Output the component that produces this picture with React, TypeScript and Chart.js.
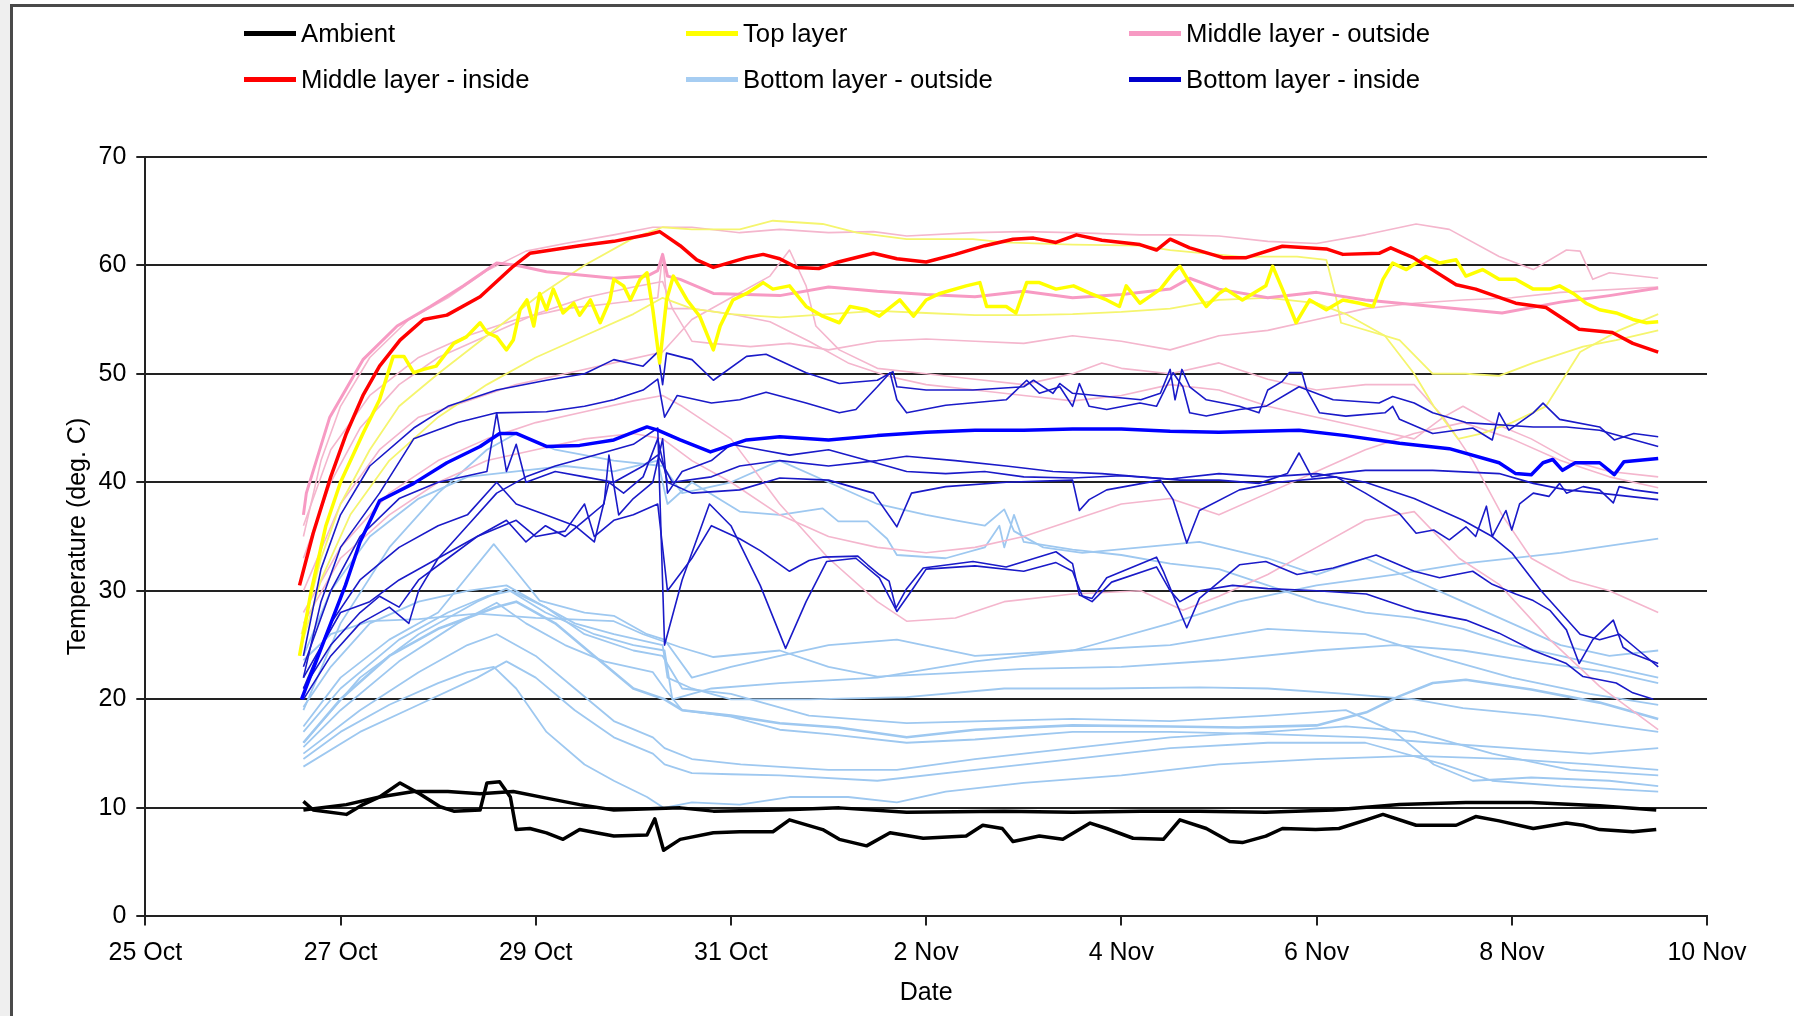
import React, { useEffect, useRef } from "react";
import { Chart, registerables } from "chart.js";

Chart.register(...registerables);

// x = days after 25 Oct 00:00, y = temperature (deg. C)
type Pt = [number, number];

const X_TICK_LABELS = ["25 Oct", "27 Oct", "29 Oct", "31 Oct", "2 Nov", "4 Nov", "6 Nov", "8 Nov", "10 Nov"];
const Y_MIN = 0;
const Y_MAX = 70;
const Y_STEP = 10;

const LEGEND_ROW1 = ["Ambient", "Top layer", "Middle layer - outside"];
const LEGEND_ROW2 = ["Middle layer - inside", "Bottom layer - outside", "Bottom layer - inside"];

// ---------- Ambient ----------
const AMBIENT_1: Pt[] = [[1.62,9.8],[2.06,10.3],[2.4,11.0],[2.75,11.5],[3.1,11.5],[3.43,11.3],[3.77,11.5],[4.11,10.9],[4.45,10.3],[4.8,9.8],[5.48,10.0],[5.82,9.7],[6.5,9.8],[7.11,10.0],[7.8,9.6],[8.8,9.7],[9.5,9.6],[10.2,9.7],[10.8,9.7],[11.48,9.6],[12.17,9.8],[12.85,10.3],[13.53,10.5],[14.2,10.5],[14.9,10.2],[15.48,9.8]];
const AMBIENT_2: Pt[] = [[1.62,10.6],[1.72,9.8],[2.06,9.4],[2.23,10.3],[2.4,11.0],[2.61,12.3],[2.81,11.3],[3.02,10.1],[3.16,9.7],[3.43,9.8],[3.5,12.3],[3.63,12.4],[3.74,11.0],[3.8,8.0],[3.94,8.1],[4.11,7.7],[4.28,7.1],[4.45,8.0],[4.62,7.7],[4.8,7.4],[5.14,7.5],[5.22,9.0],[5.31,6.1],[5.48,7.1],[5.82,7.7],[6.09,7.8],[6.43,7.8],[6.6,8.9],[6.94,8.0],[7.11,7.1],[7.39,6.5],[7.63,7.7],[7.97,7.2],[8.41,7.4],[8.58,8.4],[8.78,8.1],[8.89,6.9],[9.16,7.4],[9.4,7.1],[9.68,8.6],[9.85,8.1],[10.12,7.2],[10.43,7.1],[10.6,8.9],[10.87,8.1],[11.11,6.9],[11.24,6.8],[11.48,7.4],[11.65,8.1],[11.99,8.0],[12.23,8.1],[12.51,8.9],[12.68,9.4],[13.02,8.4],[13.43,8.4],[13.63,9.2],[13.87,8.8],[14.22,8.1],[14.56,8.6],[14.73,8.4],[14.9,8.0],[15.24,7.8],[15.48,8.0]];

// ---------- Middle layer - inside ----------
const MIDDLE_INSIDE: Pt[] = [[1.58,30.5],[1.72,35.3],[1.9,40.5],[2.06,44.5],[2.23,48],[2.4,50.7],[2.61,53.1],[2.85,55],[3.09,55.4],[3.43,57.1],[3.6,58.5],[3.77,59.9],[3.94,61.1],[4.45,61.8],[4.8,62.2],[5.14,62.8],[5.27,63.1],[5.48,61.8],[5.65,60.5],[5.82,59.8],[6.16,60.7],[6.33,61],[6.5,60.6],[6.67,59.8],[6.9,59.7],[7.1,60.3],[7.46,61.1],[7.7,60.6],[8.0,60.3],[8.3,61],[8.6,61.8],[8.89,62.4],[9.1,62.5],[9.33,62.1],[9.54,62.8],[9.8,62.3],[10.19,61.9],[10.36,61.4],[10.5,62.4],[10.7,61.6],[11.04,60.7],[11.28,60.7],[11.65,61.75],[12.1,61.5],[12.27,61.0],[12.64,61.1],[12.76,61.6],[12.99,60.7],[13.43,58.2],[13.63,57.8],[14.04,56.5],[14.35,56.1],[14.69,54.1],[15.03,53.8],[15.24,52.8],[15.5,52.0]];

// ---------- Top layer ----------
const TOP_MAIN: Pt[] = [[1.58,24],[1.7,30],[1.85,36],[2.0,40],[2.23,44.5],[2.4,47.6],[2.54,51.6],[2.65,51.6],[2.75,50.1],[2.85,50.4],[2.98,50.7],[3.16,52.8],[3.29,53.4],[3.43,54.7],[3.5,53.8],[3.6,53.4],[3.7,52.2],[3.77,53.1],[3.84,55.9],[3.91,56.8],[3.98,54.4],[4.04,57.4],[4.11,55.9],[4.18,57.8],[4.28,55.6],[4.39,56.5],[4.45,55.4],[4.56,56.8],[4.66,54.7],[4.76,56.8],[4.8,58.7],[4.9,58.1],[4.97,56.8],[5.07,58.7],[5.14,59.3],[5.2,55.9],[5.27,51],[5.34,56.8],[5.41,59],[5.55,56.8],[5.68,55.3],[5.82,52.2],[5.89,54.4],[6.02,56.8],[6.16,57.4],[6.33,58.4],[6.43,57.8],[6.6,58.1],[6.77,56.2],[6.94,55.3],[7.11,54.7],[7.22,56.2],[7.39,55.9],[7.52,55.3],[7.73,56.8],[7.87,55.3],[8.0,56.8],[8.14,57.4],[8.41,58.1],[8.55,58.4],[8.62,56.2],[8.82,56.2],[8.92,55.6],[9.03,58.4],[9.16,58.4],[9.33,57.8],[9.51,58.1],[9.68,57.4],[9.85,56.8],[9.98,56.2],[10.05,58.1],[10.19,56.5],[10.4,57.8],[10.53,59.3],[10.6,59.9],[10.7,58.4],[10.87,56.2],[11.0,57.4],[11.07,57.8],[11.24,56.8],[11.48,58.1],[11.55,59.9],[11.65,57.8],[11.79,54.7],[11.93,56.8],[12.1,55.9],[12.27,56.8],[12.44,56.5],[12.58,56.2],[12.68,58.7],[12.78,60.2],[12.92,59.6],[13.12,60.8],[13.26,60.2],[13.43,60.5],[13.53,59],[13.7,59.6],[13.87,58.7],[14.04,58.7],[14.22,57.8],[14.39,57.8],[14.49,58.1],[14.63,57.4],[14.76,56.5],[14.9,55.9],[15.07,55.6],[15.24,55],[15.38,54.7],[15.5,54.8]];
const TOP_UPPER: Pt[] = [[1.6,26],[1.8,33],[2.0,38],[2.3,43],[2.6,47],[3.0,50],[3.5,53.5],[4.0,57],[4.5,60],[5.0,62.5],[5.3,63.5],[5.6,63.3],[6.09,63.3],[6.43,64.1],[6.94,63.8],[7.29,63],[7.8,62.4],[8.48,62.4],[8.8,62.1],[9.5,61.9],[10.19,61.8],[10.5,61.4],[11.21,60.8],[11.8,60.8],[12.1,60.5],[12.2,57],[12.25,54.7],[12.85,53.1],[13.19,50],[13.53,50],[13.87,49.8],[14.22,51],[14.73,52.5],[15.07,53.1],[15.5,54]];
const TOP_LOWER: Pt[] = [[1.6,25],[1.8,31],[2.1,37],[2.5,42],[3.0,46],[3.5,49],[4.0,51.5],[4.5,53.5],[5.0,55.5],[5.3,57],[5.6,56],[6.0,55.5],[6.5,55.2],[7.0,55.5],[7.5,55.8],[8.0,55.6],[8.5,55.4],[9.0,55.4],[9.5,55.5],[10.0,55.7],[10.5,56.0],[11.0,56.8],[11.5,57],[12.0,56.5],[12.3,55.5],[12.7,53.5],[13.0,50],[13.2,47],[13.45,44],[13.7,44.5],[14.0,45.5],[14.35,47],[14.7,52],[15.1,54],[15.5,55.5]];

// ---------- Middle layer - outside ----------
const MID_OUT_MAIN: Pt[] = [[1.62,37],[1.65,39],[1.89,46],[2.23,51.3],[2.58,54.4],[2.92,56.2],[3.26,58.1],[3.6,60.2],[3.8,60],[4.11,59.4],[4.8,58.8],[5.14,59],[5.25,59.5],[5.3,61],[5.35,59],[5.48,58.7],[5.82,57.4],[6.5,57.2],[7.0,58.0],[7.5,57.6],[8.0,57.3],[8.5,57.1],[9.0,57.6],[9.5,57],[10.0,57.3],[10.5,57.8],[10.7,58.8],[11.0,57.8],[11.5,57],[12.0,57.5],[12.5,56.8],[13.2,56.2],[13.9,55.6],[14.5,56.6],[15.0,57.2],[15.5,57.9]];
const MID_OUT_A: Pt[] = [[1.62,35],[1.8,42],[2.0,47],[2.3,51.5],[2.7,55],[3.1,57],[3.5,59.5],[3.9,61.3],[4.3,62],[4.8,62.8],[5.2,63.5],[5.6,63.5],[6.09,63],[6.5,63.3],[7.0,63],[7.46,63.1],[7.8,62.7],[8.48,63],[9.0,63.1],[9.5,63],[10.19,62.8],[10.6,62.8],[11.0,62.7],[11.5,62.2],[12.0,62],[12.5,62.8],[13.02,63.8],[13.36,63.3],[13.87,60.8],[14.22,59.6],[14.56,61.4],[14.7,61.3],[14.83,58.7],[15.0,59.3],[15.5,58.8]];
const MID_OUT_B: Pt[] = [[1.62,33],[1.9,40],[2.2,45],[2.6,49],[3.0,51.5],[3.5,53.5],[4.0,55.5],[4.5,57],[5.0,58],[5.3,58.5],[5.4,56],[5.6,53],[5.8,52.8],[6.2,52.5],[6.6,52.8],[7.0,52.2],[7.5,53],[8.0,53.2],[8.5,53],[9.0,52.8],[9.5,53.5],[10.0,53],[10.5,52.2],[11.0,53.5],[11.5,54],[12,55],[12.5,56],[13.0,56.5],[13.5,56.8],[14,57],[14.5,57.5],[15.5,58]];
const MID_OUT_C: Pt[] = [[1.62,30],[2.0,38],[2.4,43],[2.8,46],[3.3,47.5],[3.8,49],[4.3,50],[4.8,51],[5.3,52],[5.6,55],[6.0,57],[6.4,59],[6.6,61.4],[6.77,58.1],[6.87,54.4],[7.11,52.2],[7.5,50.5],[8.0,50],[8.5,49.5],[9.0,49],[9.5,50],[9.8,51],[10.0,50.5],[10.5,50],[11.0,51],[11.5,49.5],[12.0,48.5],[12.5,49],[13.0,49],[13.3,46],[13.6,42],[13.9,37],[14.2,33],[14.6,31],[15.0,30],[15.5,28]];
const MID_OUT_D: Pt[] = [[1.62,28],[2.0,34],[2.5,39],[3.0,42],[3.5,44],[4.0,45.5],[4.5,46.5],[5.0,47.5],[5.3,48],[5.5,47],[6.0,44],[6.5,38],[7.0,33],[7.5,29],[7.8,27.2],[8.3,27.5],[8.8,29],[9.5,29.7],[10.2,30],[10.63,28.2],[11.0,29.5],[11.5,31.5],[12.0,34],[12.5,36.5],[13.0,37.3],[13.46,33],[13.87,30.6],[14.39,25.5],[14.9,21.2],[15.5,17.2]];
const MID_OUT_E: Pt[] = [[1.62,27],[2.0,33],[2.5,37],[3.0,40],[3.5,42],[4.0,43],[4.5,44],[5.0,44.5],[5.3,44],[5.6,42],[6.0,40],[6.5,37],[7.0,35],[7.5,34],[8.0,33.5],[8.5,34],[9.0,35],[9.5,36.5],[10.0,38],[10.5,38.5],[11.0,37],[11.5,39],[12.0,41],[12.5,43],[13.0,44.5],[13.5,45.5],[14.0,44],[14.5,42],[15.0,40.5],[15.5,39.5]];
const MID_OUT_F: Pt[] = [[1.62,36],[1.9,43],[2.3,48],[2.8,51.5],[3.3,53.5],[3.8,55],[4.3,56],[4.8,56.5],[5.25,57],[5.3,61],[5.35,56],[5.6,56],[6.0,55.5],[6.4,54.8],[6.8,53],[7.2,51],[7.6,49.8],[8.0,49],[8.5,48.5],[9.0,48],[9.5,47.5],[10.0,48],[10.5,49],[11.0,48.5],[11.5,47],[12.0,46],[12.5,45],[13.0,44],[13.3,46],[13.5,47],[13.8,45.5],[14.2,44],[14.6,42],[15.0,41],[15.5,40.5]];

// ---------- Bottom layer - inside ----------
const BOT_IN_MAIN: Pt[] = [[1.6,20],[1.75,23.5],[1.9,27],[2.05,30.5],[2.2,34.5],[2.4,38.3],[2.75,39.9],[3.09,41.8],[3.43,43.3],[3.63,44.5],[3.8,44.5],[4.11,43.3],[4.45,43.4],[4.8,43.9],[5.14,45.1],[5.25,44.8],[5.48,43.9],[5.79,42.8],[6.16,43.9],[6.5,44.2],[7.0,43.9],[7.5,44.3],[8,44.6],[8.5,44.8],[9,44.8],[9.5,44.9],[10,44.9],[10.5,44.7],[11.0,44.6],[11.82,44.8],[12.3,44.3],[12.85,43.6],[13.36,43.1],[13.87,41.8],[14.04,40.8],[14.2,40.7],[14.32,41.8],[14.42,42.1],[14.52,41.1],[14.65,41.8],[14.9,41.8],[15.05,40.7],[15.15,41.9],[15.5,42.2]];
const BOT_IN_A: Pt[] = [[1.62,24],[1.8,32],[2.0,37],[2.3,41.5],[2.75,45],[3.1,47],[3.6,48.5],[4.11,49.4],[4.5,50],[4.8,51.3],[5.1,50.7],[5.25,52],[5.3,49],[5.34,51.9],[5.6,51.3],[5.82,49.4],[6.16,51.6],[6.36,51.8],[6.77,50.1],[7.11,49.1],[7.5,49.4],[7.66,50.2],[7.7,48.8],[8.0,48.5],[8.48,48.5],[9.0,48.8],[9.1,49.4],[9.3,48.2],[9.37,49.1],[9.5,48.2],[9.85,47.9],[10.2,47.6],[10.4,48.2],[10.5,50.4],[10.55,47.6],[10.62,50.4],[10.7,48.8],[10.87,47.6],[11.21,47],[11.41,46.4],[11.5,48.5],[11.65,49.3],[11.72,50.1],[11.85,50.1],[11.9,48.5],[12.03,46.4],[12.3,46.1],[12.7,46.4],[12.78,47],[12.85,45.8],[13.19,44.5],[13.6,45],[13.8,43.9],[13.87,46.4],[13.97,44.8],[14.22,46.4],[14.32,47.3],[14.49,45.8],[14.9,45.1],[15.05,43.9],[15.25,44.5],[15.5,44.2]];
const BOT_IN_B: Pt[] = [[1.62,22],[1.8,29],[2.0,34],[2.4,39],[2.75,44],[3.2,45.5],[3.6,46.4],[4.11,46.5],[4.5,47],[4.8,47.6],[5.1,48.5],[5.25,49.5],[5.32,46],[5.45,48],[5.8,47.3],[6.09,47.6],[6.36,48.3],[6.77,47.3],[7.11,46.4],[7.28,46.7],[7.5,48.8],[7.63,50.1],[7.7,47.6],[7.8,46.4],[8.2,47.1],[8.82,47.6],[9.03,49.4],[9.16,48.2],[9.37,48.8],[9.5,47],[9.57,49.1],[9.67,47],[9.85,46.7],[10.19,47.3],[10.36,47],[10.53,50.1],[10.63,48.8],[10.7,46.4],[10.87,46.1],[11.21,46.7],[11.48,47],[11.82,48.8],[12.17,47.6],[12.64,47.3],[12.78,47.9],[13.0,47.3],[13.19,46.4],[13.53,45.5],[14.22,45.1],[14.56,45.1],[14.9,44.8],[15.5,43.3]];
const BOT_IN_C: Pt[] = [[1.62,23],[1.9,30],[2.2,35],[2.6,38.5],[3.0,40],[3.5,41],[3.6,46.4],[3.7,41],[3.8,43.5],[3.9,40],[4.2,41],[4.5,40.5],[4.8,40],[5.1,41.5],[5.25,42.5],[5.4,40],[5.8,40.5],[6.09,41.5],[6.5,42],[7.0,41.5],[7.5,42],[7.8,42.4],[8.3,42],[8.82,41.5],[9.3,41],[9.8,40.8],[10.2,40.5],[10.6,40.2],[11.0,40.2],[11.41,39.9],[11.7,40.8],[11.82,42.7],[11.95,40.5],[12.17,40.8],[12.5,41.1],[13.19,41.1],[13.87,40.8],[14.22,39.9],[14.56,39.3],[14.9,39],[15.5,38.4]];
const BOT_IN_D: Pt[] = [[1.62,21],[1.9,27],[2.2,31],[2.6,34],[3.0,36],[3.3,37],[3.6,40],[3.8,38],[4.1,37],[4.4,36],[4.6,34.5],[4.75,40],[4.9,39],[5.1,40.5],[5.25,44],[5.35,40],[5.6,39],[6.09,39.3],[6.5,40.4],[7.0,40.2],[7.46,39],[7.7,35.9],[7.85,39],[8.2,39.6],[8.82,40],[9.5,40.2],[9.57,37.4],[9.67,38.4],[9.85,39.3],[10.4,40.2],[10.53,38.4],[10.67,34.4],[10.8,37.4],[11.21,39.3],[11.6,40],[12.2,40.5],[12.5,39],[12.85,37.1],[13.02,35.3],[13.2,35.6],[13.36,34.7],[13.53,35.9],[13.63,35],[13.74,37.8],[13.8,35],[13.94,37.4],[14.0,35.6],[14.08,38],[14.22,39],[14.38,38.7],[14.49,39.9],[14.56,39],[14.73,39.6],[14.9,39.3],[15.04,38.1],[15.1,39.6],[15.25,39.3],[15.5,39]];
const BOT_IN_E: Pt[] = [[1.62,22],[2.0,28],[2.3,29],[2.6,31],[3.0,33],[3.4,35],[3.8,36.5],[4.0,35],[4.3,35.5],[4.5,38],[4.6,35],[4.8,36.5],[5.0,37],[5.25,38],[5.35,30],[5.6,33],[5.8,36],[6.09,34.8],[6.3,33.7],[6.6,31.8],[6.8,32.8],[6.94,33.1],[7.3,33.2],[7.4,32.4],[7.52,31.5],[7.62,30.9],[7.69,28.4],[7.8,30.2],[7.97,32.1],[8.48,32.7],[8.82,32.2],[9.33,33.6],[9.5,32.5],[9.57,29.6],[9.7,29.3],[9.85,31.2],[10.36,33.1],[10.43,31.8],[10.53,29.6],[10.67,26.6],[10.8,29.3],[11.21,32.4],[11.48,32.7],[11.8,31.5],[12.17,32.1],[12.61,33.3],[13.0,31.8],[13.26,31.2],[13.6,31.8],[13.8,30.6],[14.04,29.7],[14.22,29.1],[14.39,28.2],[14.56,26.4],[14.69,23.3],[14.83,25.5],[15.04,27.3],[15.14,24.8],[15.24,24.2],[15.5,23.3]];
const BOT_IN_F: Pt[] = [[1.62,20],[1.9,24],[2.2,27],[2.5,28.5],[2.7,27],[2.8,30],[3.0,33],[3.3,36],[3.6,39],[3.9,40.5],[4.2,41.5],[4.6,42.5],[5.0,43.5],[5.25,45],[5.32,25],[5.5,31],[5.78,38],[6.0,36],[6.3,30.5],[6.56,24.7],[6.77,29],[6.98,32.7],[7.28,33],[7.52,31.2],[7.7,28.1],[7.85,30],[8.0,32],[8.5,32.3],[9.0,31.8],[9.33,32.6],[9.5,31.8],[9.6,29.5],[9.7,29.0],[9.9,30.8],[10.36,32.2],[10.5,30],[10.6,29],[10.8,30],[11.14,30.5],[11.5,30.2],[12.0,30],[12.51,29.7],[13.0,28.2],[13.53,27.3],[13.87,26.1],[14.22,24.5],[14.56,23.3],[14.73,22.1],[15.07,21.5],[15.24,20.6],[15.45,20]];
const BOT_IN_G: Pt[] = [[1.62,21],[1.9,25],[2.2,28],[2.4,29.5],[2.6,28.5],[2.8,31],[3.1,33],[3.4,35],[3.7,36.5],[3.9,34.5],[4.1,36],[4.3,35],[4.5,36.5],[4.7,38],[4.75,42.5],[4.85,37],[5.0,38.5],[5.2,40],[5.3,44],[5.35,39],[5.5,41],[5.8,42],[6.0,43.5],[6.3,43],[6.6,42.5],[7.0,43],[7.4,42],[7.8,41],[8.2,40.8],[8.6,41],[9.0,40.5],[9.5,40.4],[10.0,40.6],[10.5,40.3],[11.0,40.8],[11.5,40.5],[12.0,40.8],[12.5,40],[13.0,38.5],[13.5,36.5],[13.8,35],[14.0,33.5],[14.3,30],[14.5,28],[14.7,26],[14.9,25.5],[15.1,26],[15.3,24.5],[15.5,23]];

// ---------- Bottom layer - outside ----------
const BOT_OUT_A: Pt[] = [[1.62,19],[2.0,27],[2.5,34],[3.0,39],[3.5,43],[3.8,44.5],[4.2,43],[4.8,42],[5.3,41.5],[5.5,39],[6.0,40],[6.5,42],[7.0,40],[7.5,38],[8.0,37],[8.3,36.5],[8.6,36],[8.8,37.5],[8.9,35.5],[9.2,34],[9.6,33.5],[10.2,34],[10.8,34.5],[11.5,33],[12.0,31.5],[12.5,33],[13.0,31],[13.5,29],[14.0,27],[14.5,25],[15.0,24],[15.5,24.5]];
const BOT_OUT_B: Pt[] = [[1.62,17.5],[2.0,22],[2.5,25.5],[3.0,28],[3.57,34.3],[3.77,32.1],[4.04,29.1],[4.5,28],[4.8,27.7],[5.14,26],[5.32,25.5],[5.6,22],[6.0,23],[6.5,24],[7.0,25],[7.7,25.5],[8.5,24],[9.5,24.5],[10.5,27],[11.2,29],[12,30.5],[12.8,31.5],[13.5,32.5],[14.5,33.5],[15.5,34.8]];
const BOT_OUT_C: Pt[] = [[1.62,16],[2.2,22],[2.8,26],[3.4,29],[3.7,30.2],[4.1,28],[4.6,26],[5.0,25],[5.32,24.5],[5.4,20],[5.8,21],[6.5,21.5],[7.5,22],[8.5,23.5],[9.5,24.5],[10.5,25],[11.5,26.5],[12.5,26],[13.2,24],[14.0,22],[14.8,20.5],[15.5,19.5]];
const BOT_OUT_D: Pt[] = [[1.62,16],[2.0,20],[2.5,24],[3.0,26.5],[3.6,28.5],[3.8,29],[4.2,27],[4.6,24],[5.0,21],[5.32,20],[5.5,19],[6.0,18.5],[6.5,17.8],[7.1,17.4],[7.8,16.5],[8.5,17.2],[9.5,17.6],[10.5,17.5],[11.2,17.4],[12.0,17.6],[12.51,18.8],[12.85,20.3],[13.19,21.5],[13.53,21.8],[14.2,20.9],[14.9,19.7],[15.5,18.2]];
const BOT_OUT_E: Pt[] = [[1.62,23.6],[1.9,26],[2.3,27.2],[2.8,27.4],[3.4,27.9],[4.0,27.5],[4.8,27.2],[5.1,26],[5.48,24.8],[5.82,23.9],[6.5,24.5],[7.0,23],[7.5,22.1],[8.2,22.4],[9.0,22.8],[10.0,23],[11.0,23.6],[12.0,24.5],[12.8,25],[13.5,24.5],[14.2,23.5],[15.0,22.5],[15.5,21.5]];
const BOT_OUT_F: Pt[] = [[1.62,14.5],[2.0,17],[2.5,19.5],[3.0,21.5],[3.3,22.5],[3.57,23],[3.8,21],[4.11,17],[4.5,14],[4.8,12.5],[5.14,11],[5.31,10],[5.6,10.5],[6.09,10.3],[6.6,11],[7.2,11],[7.7,10.5],[8.2,11.5],[9.0,12.3],[10.0,13],[11.0,14],[12.0,14.5],[13.0,14.8],[14.0,14.5],[14.8,14],[15.5,13.5]];
const BOT_OUT_G: Pt[] = [[1.62,13.8],[2.2,17],[2.8,19.5],[3.4,22],[3.7,23.5],[4.0,22],[4.4,19],[4.8,16.5],[5.2,15],[5.32,14],[5.6,13.2],[6.0,13.1],[6.5,13],[7.5,12.5],[8.5,13.5],[9.5,14.5],[10.5,15.5],[11.5,16],[12.5,16],[13.3,14],[13.8,12.5],[14.5,12],[15.5,11.5]];
const BOT_OUT_H: Pt[] = [[1.62,15.6],[2.0,19],[2.6,23.5],[3.2,27],[3.6,28.9],[3.9,27],[4.3,25],[4.7,23.5],[5.2,22.5],[5.32,21],[5.5,19],[6.0,18.4],[6.5,17.2],[7.0,16.8],[7.8,16],[8.5,16.3],[9.5,17],[10.5,17],[11.5,16.8],[12.5,16.5],[13.2,16],[14.0,15.5],[14.8,15],[15.5,15.5]];
const BOT_OUT_I: Pt[] = [[1.62,19.3],[1.9,23],[2.3,27],[2.8,29],[3.3,30],[3.7,30.5],[4.0,29],[4.4,27],[4.8,26],[5.3,25],[5.35,22],[5.6,21],[6.0,20],[6.8,20],[7.8,20.2],[8.8,21],[9.8,21],[10.8,21.1],[11.5,21],[12.3,20.5],[13.0,20],[13.5,19.2],[14.3,18.5],[15.5,17]];
const BOT_OUT_J: Pt[] = [[1.62,17],[2.0,21],[2.6,25.5],[3.1,28],[3.5,29.5],[3.75,30],[4.1,28.5],[4.5,26],[5.0,24.5],[5.3,24],[5.5,21],[6.0,20.5],[6.8,18.5],[7.8,17.8],[8.6,18],[9.5,18.2],[10.5,18],[11.5,18.5],[12.3,19],[12.8,17],[13.2,14],[13.6,12.5],[14.2,12.8],[15.0,12.5],[15.5,12]];
const BOT_OUT_K: Pt[] = [[1.62,24],[1.9,30],[2.3,35],[2.8,38.5],[3.3,40.5],[3.8,41],[4.3,41.5],[4.8,41],[5.25,42],[5.35,38],[5.6,40],[6.09,37.3],[6.5,37],[6.94,37.6],[7.1,36.4],[7.4,36.4],[7.6,34.8],[7.7,33.3],[8.2,33],[8.6,34],[8.75,36],[8.8,34],[8.9,37],[9.0,34.5],[9.5,33.8],[10.0,33.3],[10.5,32.5],[11.0,32],[11.5,30.5],[12.0,29],[12.5,28],[13.0,27.5],[13.5,26.5],[14.0,25],[14.5,24],[15.0,23],[15.5,22]];
const BOT_OUT_L: Pt[] = [[1.62,15],[2.2,19],[2.8,22.5],[3.3,25],[3.6,26],[4.0,24],[4.4,21],[4.8,18],[5.2,16.5],[5.32,15.5],[5.6,14.5],[6.1,14],[7.0,13.5],[7.7,13.5],[8.5,14.5],[9.5,15.5],[10.5,16.5],[11.5,17],[12.3,17.5],[13.0,17],[13.8,15],[14.6,13.5],[15.5,13]];

// ---------- colours ----------
const C_AMBIENT = "#000000";
const C_TOP = "#ffff00";
const C_TOP_THIN = "#f5f56e";
const C_MID_OUT = "#f79ac3";
const C_MID_OUT_THIN = "#f4b6cd";
const C_MID_IN = "#ff0000";
const C_BOT_OUT = "#9ec8f0";
const C_BOT_IN = "#0000ff";
const C_BOT_IN_THIN = "#1a1ac8";

const FONT = "'Liberation Sans', Arial, Helvetica, sans-serif";

const LEGEND_COLORS = [[C_AMBIENT, C_TOP, C_MID_OUT], [C_MID_IN, "#a6cdf2", "#0000cc"]];

export default function App() {
  const ref = useRef<HTMLCanvasElement>(null);

  useEffect(() => {
    if (!ref.current) return;
    const mk = (pts: Pt[], color: string, width: number) => ({
      data: pts.map(([x, y]) => ({ x, y })),
      borderColor: color,
      backgroundColor: color,
      borderWidth: width,
      pointRadius: 0,
      fill: false,
      tension: 0,
      borderJoinStyle: "round" as const,
    });
    // first dataset is drawn on top
    const datasets = [
      mk(AMBIENT_2, C_AMBIENT, 3.5),
      mk(AMBIENT_1, C_AMBIENT, 3.5),
      mk(MIDDLE_INSIDE, C_MID_IN, 3.5),
      mk(BOT_IN_MAIN, C_BOT_IN, 3.5),
      mk(TOP_MAIN, C_TOP, 3.5),
      mk(BOT_IN_A, C_BOT_IN_THIN, 1.6),
      mk(BOT_IN_B, C_BOT_IN_THIN, 1.6),
      mk(BOT_IN_C, C_BOT_IN_THIN, 1.6),
      mk(BOT_IN_D, C_BOT_IN_THIN, 1.6),
      mk(BOT_IN_E, C_BOT_IN_THIN, 1.6),
      mk(BOT_IN_F, C_BOT_IN_THIN, 1.6),
      mk(BOT_IN_G, C_BOT_IN_THIN, 1.6),
      mk(MID_OUT_MAIN, C_MID_OUT, 3),
      mk(TOP_UPPER, C_TOP_THIN, 1.8),
      mk(TOP_LOWER, C_TOP_THIN, 1.8),
      mk(MID_OUT_A, C_MID_OUT_THIN, 1.6),
      mk(MID_OUT_B, C_MID_OUT_THIN, 1.6),
      mk(MID_OUT_C, C_MID_OUT_THIN, 1.6),
      mk(MID_OUT_D, C_MID_OUT_THIN, 1.6),
      mk(MID_OUT_E, C_MID_OUT_THIN, 1.6),
      mk(MID_OUT_F, C_MID_OUT_THIN, 1.6),
      mk(BOT_OUT_A, C_BOT_OUT, 1.8),
      mk(BOT_OUT_B, C_BOT_OUT, 1.8),
      mk(BOT_OUT_C, C_BOT_OUT, 1.8),
      mk(BOT_OUT_D, C_BOT_OUT, 2.6),
      mk(BOT_OUT_E, C_BOT_OUT, 1.8),
      mk(BOT_OUT_F, C_BOT_OUT, 1.8),
      mk(BOT_OUT_G, C_BOT_OUT, 1.8),
      mk(BOT_OUT_H, C_BOT_OUT, 1.8),
      mk(BOT_OUT_I, C_BOT_OUT, 1.8),
      mk(BOT_OUT_J, C_BOT_OUT, 1.8),
      mk(BOT_OUT_K, C_BOT_OUT, 1.8),
      mk(BOT_OUT_L, C_BOT_OUT, 1.8),
    ];

    const tickFont = { family: FONT, size: 25 };
    const titleFont = { family: FONT, size: 25 };

    const chart = new Chart(ref.current, {
      type: "line",
      data: { datasets },
      options: {
        animation: false,
        responsive: false,
        events: [],
        layout: { padding: { left: 63.5, top: 156.7, right: 87, bottom: 8 } },
        plugins: { legend: { display: false }, tooltip: { enabled: false }, title: { display: false } },
        scales: {
          x: {
            type: "linear",
            min: 0,
            max: (X_TICK_LABELS.length - 1) * 2,
            afterFit: (s: any) => { s.height = 91.6; },
            ticks: {
              stepSize: 2,
              autoSkip: false,
              maxRotation: 0,
              padding: 12.5,
              color: "#000",
              font: tickFont,
              callback: (v: any) => X_TICK_LABELS[Math.round(Number(v) / 2)] ?? "",
            },
            grid: { drawOnChartArea: false, drawTicks: true, tickLength: 9, color: "#222", lineWidth: 2 },
            border: { display: true, color: "#222", width: 2 },
            title: { display: true, text: "Date", color: "#000", font: titleFont, padding: 0 },
          },
          y: {
            min: Y_MIN,
            max: Y_MAX,
            afterFit: (s: any) => { s.width = 81.8; },
            ticks: { stepSize: Y_STEP, padding: 10, color: "#000", font: tickFont },
            grid: { drawOnChartArea: true, drawTicks: true, tickLength: 9, color: "#222", lineWidth: 2 },
            border: { display: true, color: "#222", width: 2 },
            title: { display: true, text: "Temperature (deg. C)", color: "#000", font: titleFont, padding: 0 },
          },
        },
      },
    });
    return () => chart.destroy();
  }, []);

  const legendCols = [244, 686, 1129];
  const legendRows = [33, 79];
  const legendRowsText = [LEGEND_ROW1, LEGEND_ROW2];

  return (
    <div style={{ position: "absolute", left: 0, top: 0, width: 1794, height: 1016, overflow: "hidden", background: "#fff" }}>
      <div style={{ position: "absolute", left: 0, top: 0, width: 10, height: 1016, background: "#efefef" }} />
      <canvas ref={ref} width={1794} height={1016} style={{ position: "absolute", left: 0, top: 0, width: 1794, height: 1016 }} />
      <div style={{ position: "absolute", left: 10, top: 4, width: 1784, height: 3, background: "#4a4a4a" }} />
      <div style={{ position: "absolute", left: 10, top: 4, width: 3, height: 1012, background: "#4a4a4a" }} />
      {legendRowsText.map((row, ri) =>
        row.map((label, ci) => (
          <div key={`${ri}-${ci}`} style={{ position: "absolute", left: legendCols[ci], top: legendRows[ri] - 15, height: 30, display: "flex", alignItems: "center", fontFamily: FONT, fontSize: 25.7, color: "#000", whiteSpace: "nowrap" }}>
            <span style={{ display: "inline-block", width: 52, height: 5, background: LEGEND_COLORS[ri][ci], marginRight: 5 }} />
            <span>{label}</span>
          </div>
        ))
      )}
    </div>
  );
}
